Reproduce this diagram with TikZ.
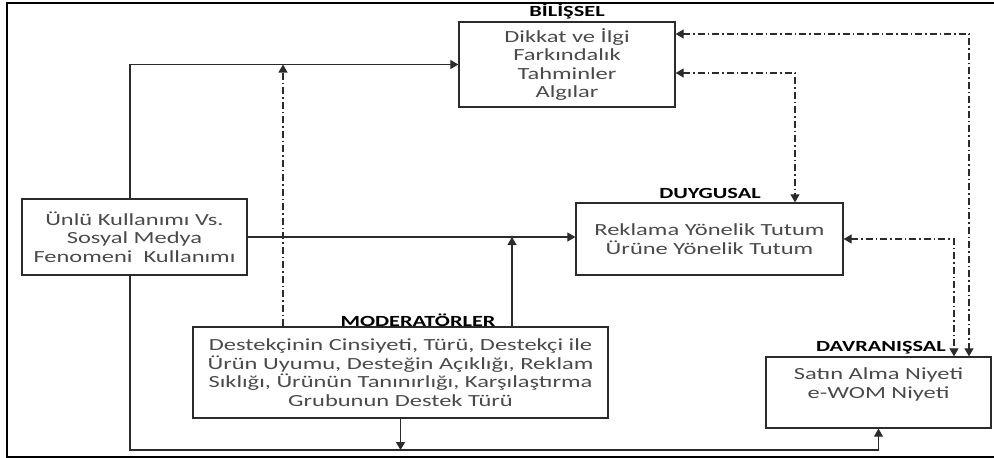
\documentclass[tikz,border=0pt]{standalone}
\usepackage{fontspec}
\setmainfont[FakeStretch=1.44]{Carlito}
\usepackage{xcolor}
\usetikzlibrary{arrows.meta}
\definecolor{ink}{HTML}{4A4A4A}
\definecolor{edge}{HTML}{2B2B2B}
\tikzset{fig/.style={line join=miter,>={Triangle[length=8pt,width=9pt]}},
 kutu/.style={draw=edge,line width=1.3pt,align=center,text=ink,inner sep=0pt},
 baslik/.style={font=\fontsize{15.5pt}{17pt}\selectfont\bfseries,text=black,inner sep=0pt},
 ok/.style={draw=edge,line width=1.1pt,->},
 nokta/.style={draw=edge,line width=1.1pt,dash pattern=on 7pt off 3pt on 1.5pt off 3pt}}

\begin{document}
\begin{tikzpicture}[fig,x=1pt,y=-1pt,font=\fontsize{17pt}{18.5pt}\selectfont]
 \useasboundingbox (0,0) rectangle (994,458);
 \draw[black,line width=2pt] (998,3)--(7,3)--(7,457)--(998,457);
 % kutular
 \node[kutu,minimum width=216pt,minimum height=85pt] (bilis) at (567,64.5) {Dikkat ve İlgi\\Farkındalık\\Tahminler\\Algılar};
 \node[kutu,minimum width=225pt,minimum height=76pt] (unlu) at (134.5,237) {Ünlü Kullanımı Vs.\\Sosyal Medya\\Fenomeni\ \ Kullanımı};
 \node[kutu,minimum width=267pt,minimum height=72pt] (duygu) at (709.5,239) {Reklama Yönelik Tutum\\Ürüne Yönelik Tutum};
 \node[kutu,minimum width=415pt,minimum height=91pt] (moder) at (400.5,372.5) {Destekçinin Cinsiyeti, Türü, Destekçi ile\\Ürün Uyumu, Desteğin Açıklığı, Reklam\\Sıklığı, Ürünün Tanınırlığı, Karşılaştırma\\Grubunun Destek Türü};
 \node[kutu,minimum width=225pt,minimum height=71pt] (davra) at (878.5,392.5) {Satın Alma Niyeti\\e-WOM Niyeti\\\mbox{}};
 % basliklar
 \node[baslik] (tbilis) at (567,11) {BİLİŞSEL};
 \node[baslik] (tduygu) at (710,193) {DUYGUSAL};
 \node[baslik] (tmoder) at (418,320) {MODERATÖRLER};
 \node[baslik,anchor=east] (tdavra) at (946,348) {DAVRANIŞSAL};
 \coordinate (solx) at (130,0);\coordinate (alt) at (0,450);
 \coordinate (m1) at (283,0);\coordinate (m2) at (512,0);
 \coordinate (d1) at (795,0);\coordinate (d2) at (954,0);\coordinate (d3) at (969,0);
 % oklar
 \draw[ok] (unlu.north -| solx) |- (bilis.west);
 \draw[ok] (unlu.east) -- (unlu.east -| duygu.west);
 \draw[ok] (unlu.south -| solx) |- (alt -| davra.south) -- (davra.south);
 \draw[ok] (moder.south) -- (moder.south |- alt);
 \draw[ok] (moder.north -| m2) -- (m2 |- unlu.east);
 \draw[nokta,->] (moder.north -| m1) -- (m1 |- bilis.west);
 \draw[nokta,<->] ([yshift=30.5pt]bilis.east) -| (davra.north -| d3);
 \draw[nokta,<->] ([yshift=-8.5pt]bilis.east) -| (duygu.north -| d1);
 \draw[nokta,<->] (duygu.east) -| (davra.north -| d2);
\end{tikzpicture}
\end{document}
